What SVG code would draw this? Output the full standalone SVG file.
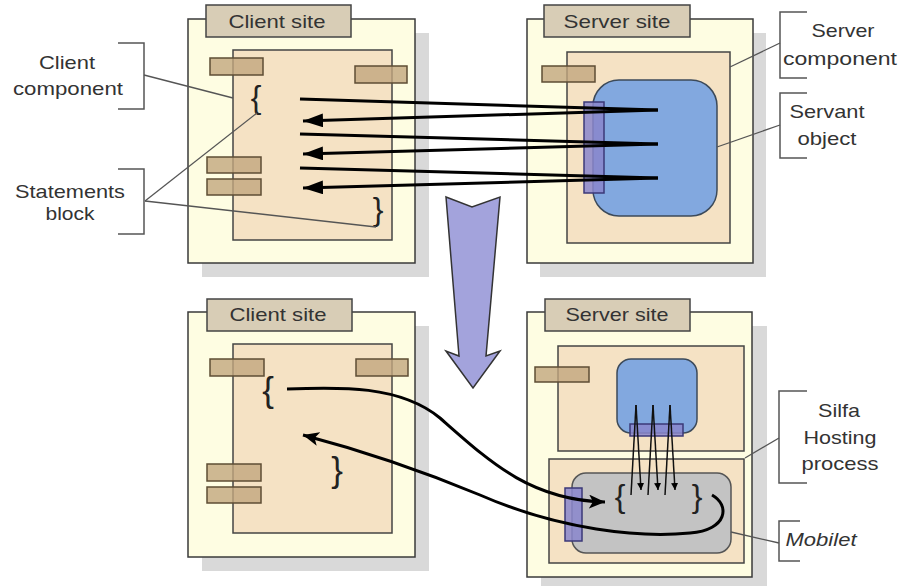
<svg xmlns="http://www.w3.org/2000/svg" width="904" height="586" viewBox="0 0 904 586">
<defs>
<marker id="ah" markerUnits="userSpaceOnUse" markerWidth="22" markerHeight="14" refX="20" refY="7" orient="auto"><path d="M0,0 L20,7 L0,14 z" fill="#000"/></marker>
<marker id="ahc" markerUnits="userSpaceOnUse" markerWidth="18" markerHeight="14" refX="16" refY="7" orient="auto"><path d="M0,0 L16,7 L0,14 L4,7 z" fill="#000"/></marker>
<marker id="ahs" markerUnits="userSpaceOnUse" markerWidth="8" markerHeight="8" refX="7" refY="3.5" orient="auto"><path d="M0,0 L7,3.5 L0,7 z" fill="#000"/></marker>
</defs>
<style>
.sh{fill:#d9d9d9}
.out{fill:#fefde2;stroke:#3a3a3a;stroke-width:1.5}
.tab{fill:#d8cdb6;stroke:#444;stroke-width:1.5}
.inn{fill:#f5e2c4;stroke:#444;stroke-width:1.5}
.tan{fill:#c2a67e;fill-opacity:0.8;stroke:#5e4d34;stroke-width:1.5}
.blue{fill:#82a8df;stroke:#3c4a5a;stroke-width:1.5}
.pur{fill:#8a86cc;fill-opacity:0.85;stroke:#3b3978;stroke-width:1.5}
.gray{fill:#c3c3c3;stroke:#555;stroke-width:1.5}
.t{font-family:"Liberation Sans",Arial,sans-serif;font-size:19px;fill:#333;text-anchor:middle}
.br{font-family:"Liberation Sans",Arial,sans-serif;fill:#222;text-anchor:middle}
.brk{fill:none;stroke:#555;stroke-width:1.5}
.ld{fill:none;stroke:#555;stroke-width:1.3}
.ln{fill:none;stroke:#000;stroke-width:3}
.lns{fill:none;stroke:#111;stroke-width:1.5}
</style>

<g id="client-top">
<rect class="sh" x="202" y="33" width="227" height="244"/>
<rect class="out" x="188" y="19" width="227" height="244"/>
<rect class="tab" x="206" y="5" width="145" height="32"/>
<text class="t" x="277" y="28" textLength="97" lengthAdjust="spacingAndGlyphs">Client site</text>
<rect class="inn" x="233" y="50" width="159" height="190"/>
<rect class="tan" x="210" y="58" width="53" height="17"/>
<rect class="tan" x="355" y="66" width="52" height="17"/>
<rect class="tan" x="207" y="157" width="54" height="16"/>
<rect class="tan" x="207" y="179" width="54" height="16"/>
<text class="br" x="256" y="108" font-size="32">{</text>
<text class="br" x="378" y="220" font-size="32">}</text>
</g>

<g id="server-top">
<rect class="sh" x="540" y="33" width="226" height="244"/>
<rect class="out" x="527" y="19" width="226" height="244"/>
<rect class="tab" x="544" y="5" width="146" height="32"/>
<text class="t" x="617" y="28" textLength="107" lengthAdjust="spacingAndGlyphs">Server site</text>
<rect class="inn" x="567" y="52" width="163" height="191"/>
<rect class="tan" x="542" y="66" width="53" height="16"/>
<rect class="blue" x="593" y="80" width="124" height="136" rx="26"/>
<rect class="pur" x="584" y="102" width="20" height="91"/>
</g>

<g id="client-bottom">
<rect class="sh" x="202" y="326" width="227" height="245"/>
<rect class="out" x="188" y="312" width="227" height="245"/>
<rect class="tab" x="207" y="299" width="145" height="32"/>
<text class="t" x="278" y="321" textLength="97" lengthAdjust="spacingAndGlyphs">Client site</text>
<rect class="inn" x="233" y="344" width="159" height="189"/>
<rect class="tan" x="210" y="359" width="54" height="17"/>
<rect class="tan" x="356" y="359" width="52" height="17"/>
<rect class="tan" x="207" y="464" width="54" height="17"/>
<rect class="tan" x="207" y="487" width="54" height="16"/>
<text class="br" x="268" y="402" font-size="35">{</text>
<text class="br" x="337" y="482" font-size="35">}</text>
</g>

<g id="server-bottom">
<rect class="sh" x="541" y="326" width="226" height="265"/>
<rect class="out" x="527" y="312" width="225" height="265"/>
<rect class="tab" x="545" y="299" width="145" height="32"/>
<text class="t" x="617" y="321" textLength="103" lengthAdjust="spacingAndGlyphs">Server site</text>
<rect class="inn" x="558" y="346" width="186" height="105"/>
<rect class="tan" x="535" y="367" width="54" height="15"/>
<rect class="blue" x="617" y="359" width="80" height="74" rx="14"/>
<rect class="pur" x="630" y="424" width="53" height="12"/>
<rect class="inn" x="549" y="459" width="195" height="104"/>
<rect class="gray" x="572" y="473" width="159" height="80" rx="14"/>
<rect class="pur" x="565" y="488" width="17" height="53"/>
<text class="br" x="620" y="507" font-size="32">{</text>
<text class="br" x="697" y="507" font-size="32">}</text>
</g>

<g id="transition-arrow">
<path d="M446,197 L472,207 L500,197 L486,356 L500,351 L473,388 L446,351 L459,356 Z" fill="#a3a3dc" stroke="#333" stroke-width="1.5" stroke-linejoin="miter"/>
</g>

<g id="connectors">
<path class="ln" d="M300,99 L658,110"/>
<path class="ln" d="M658,110 L303,121" marker-end="url(#ah)"/>
<path class="ln" d="M300,134 L658,144"/>
<path class="ln" d="M658,144 L303,154" marker-end="url(#ah)"/>
<path class="ln" d="M300,168 L658,178"/>
<path class="ln" d="M658,178 L303,188" marker-end="url(#ah)"/>

<path class="ln" d="M287,389 C340,387 400,385 440,418 C490,462 530,500 605,502" marker-end="url(#ahc)"/>
<path class="ln" d="M712,495 C730,505 728,530 690,533 C640,538 560,530 480,495 C420,470 360,450 303,435" marker-end="url(#ahc)"/>

<path class="lns" d="M636,405 L631,495"/>
<path class="lns" d="M636,405 L641,490" marker-end="url(#ahs)"/>
<path class="lns" d="M653,405 L648,495"/>
<path class="lns" d="M653,405 L658,490" marker-end="url(#ahs)"/>
<path class="lns" d="M670,405 L665,495"/>
<path class="lns" d="M670,405 L675,490" marker-end="url(#ahs)"/>
</g>

<g id="label-client-component">
<path class="brk" d="M118,43 H144 V109 H118"/>
<path class="ld" d="M144,75 L233,98"/>
<text class="t" x="67" y="69" textLength="56" lengthAdjust="spacingAndGlyphs">Client</text>
<text class="t" x="68" y="95" textLength="110" lengthAdjust="spacingAndGlyphs">component</text>
</g>
<g id="label-statements-block">
<path class="brk" d="M118,169 H144 V234 H118"/>
<path class="ld" d="M145,201 L257,113"/>
<path class="ld" d="M145,201 L376,227"/>
<text class="t" x="70" y="198" textLength="110" lengthAdjust="spacingAndGlyphs">Statements</text>
<text class="t" x="70" y="220" textLength="49" lengthAdjust="spacingAndGlyphs">block</text>
</g>
<g id="label-server-component">
<path class="brk" d="M807,12 H780 V78 H807"/>
<path class="ld" d="M780,43 L730,67"/>
<text class="t" x="843" y="37" textLength="63" lengthAdjust="spacingAndGlyphs">Server</text>
<text class="t" x="840" y="65" textLength="114" lengthAdjust="spacingAndGlyphs">component</text>
</g>
<g id="label-servant-object">
<path class="brk" d="M807,93 H780 V158 H807"/>
<path class="ld" d="M780,125 L717,147"/>
<text class="t" x="827" y="118" textLength="75" lengthAdjust="spacingAndGlyphs">Servant</text>
<text class="t" x="827" y="145" textLength="59" lengthAdjust="spacingAndGlyphs">object</text>
</g>
<g id="label-silfa">
<path class="brk" d="M807,391 H779 V483 H807"/>
<path class="ld" d="M779,438 L745,458"/>
<text class="t" x="839" y="417" textLength="42" lengthAdjust="spacingAndGlyphs">Silfa</text>
<text class="t" x="840" y="444" textLength="73" lengthAdjust="spacingAndGlyphs">Hosting</text>
<text class="t" x="840" y="470" textLength="77" lengthAdjust="spacingAndGlyphs">process</text>
</g>
<g id="label-mobilet">
<path class="brk" d="M800,521 H779 V561 H800"/>
<path class="ld" d="M779,543 L731,532"/>
<text class="t" x="821" y="546" font-style="italic" textLength="71" lengthAdjust="spacingAndGlyphs">Mobilet</text>
</g>
</svg>
